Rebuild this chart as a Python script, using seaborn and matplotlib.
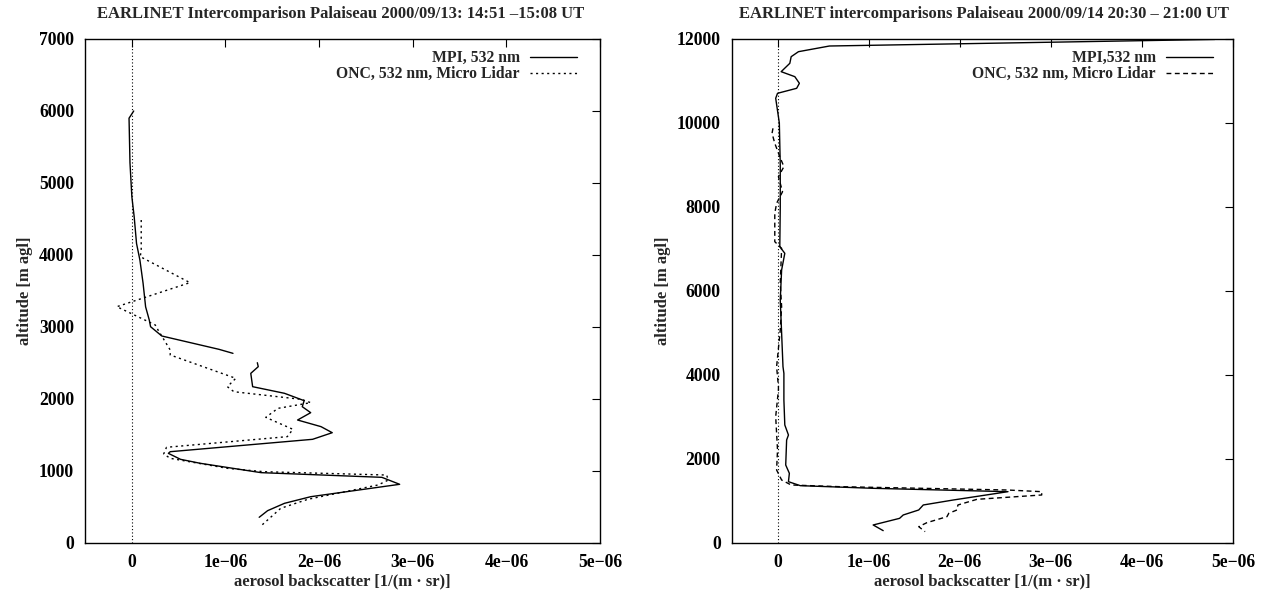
import numpy as np
import pandas as pd
import matplotlib
matplotlib.use("Agg")
import matplotlib.pyplot as plt
import seaborn as sns
from matplotlib.lines import Line2D

sns.set_theme(style="white")
plt.rcParams['font.family'] = ['Liberation Serif', 'DejaVu Serif']
plt.rcParams['font.weight'] = 'bold'

# ---- Left panel data (values in 1e-06 1/(m sr), altitude in m agl) ----
left_mpi_alt = [6000, 5900, 5280, 4810, 4530, 4160, 3930, 3607, 3280, 3097, 3004, 2875, 2690, 2634,
                np.nan,
                2504, 2449, 2356, 2171, 2079, 1977, 1893, 1810, 1708, 1616, 1532, 1440, 1268, 1245,
                1162, 1107, 977, 912, 815, 643, 551, 449, 357]
left_mpi_val = [0.02, -0.03, -0.02, 0.0, 0.025, 0.05, 0.086, 0.12, 0.147, 0.186, 0.2, 0.32, 0.93, 1.08,
                np.nan,
                1.34, 1.35, 1.27, 1.29, 1.63, 1.84, 1.82, 1.91, 1.77, 2.02, 2.14, 1.93, 0.41, 0.39,
                0.52, 0.73, 1.38, 2.67, 2.86, 1.91, 1.63, 1.45, 1.36]

left_onc_alt = [4486, 4069, 3977, 3616, 3282, 3028, 2958, 2680, 2611, 2579, 2287, 2171, 2101, 1995,
                1949, 1870, 1745, 1579, 1477, 1329, 1236, 1176, 1037, 990, 944, 875, 806, 607, 482, 250]
left_onc_val = [0.10, 0.10, 0.09, 0.62, -0.16, 0.25, 0.28, 0.41, 0.41, 0.48, 1.11, 1.02, 1.09, 1.81,
                1.91, 1.56, 1.43, 1.72, 1.66, 0.37, 0.34, 0.41, 1.02, 1.41, 2.72, 2.74, 2.63, 1.88, 1.59, 1.39]

# ---- Right panel data ----
right_mpi_alt = [11990, 11833, 11698, 11579, 11421, 11222, 11103, 10945, 10826, 10707, 10588,
                 10000, 9000, 8000, 7055, 6897, 6500, 5786, 5000, 4198, 4040, 3405, 2810, 2571, 2452,
                 1857, 1659, 1460, 1365, 1302, 1222, 1024, 905, 786, 667, 587, 429, 294]
right_mpi_val = [4.8, 0.57, 0.23, 0.15, 0.135, 0.04, 0.19, 0.24, 0.21, 0.0, -0.02,
                 0.02, 0.03, 0.03, 0.025, 0.08, 0.045, 0.03, 0.045, 0.06, 0.07, 0.07, 0.08, 0.12, 0.1,
                 0.09, 0.13, 0.12, 0.25, 1.05, 2.53, 1.93, 1.6, 1.55, 1.38, 1.34, 1.05, 1.16]

right_onc_alt = [9873, 9754, 9516, 9198, 8960, 8722, 8364, 8088, 7849, 7174, 7016, 6183, 5627, 5071,
                 4198, 3722, 3643, 3008, 2214, 1738, 1500, 1381, 1341, 1262, 1222, 1143, 1040, 905,
                 786, 707, 627, 484, 389, 270]
right_onc_val = [-0.05, -0.06, -0.03, 0.025, 0.07, 0.01, 0.055, -0.01, -0.03, -0.03, 0.045, 0.03, 0.045, 0.03,
                 -0.01, 0.01, 0.01, -0.02, 0.0, -0.01, 0.045, 0.15, 0.68, 2.52, 2.9, 2.9, 2.19, 1.98,
                 1.97, 1.88, 1.86, 1.64, 1.55, 1.62]

x_ticks = [0, 1e-6, 2e-6, 3e-6, 4e-6, 5e-6]
x_ticklabels = ['0', '1e\u221206', '2e\u221206', '3e\u221206', '4e\u221206', '5e\u221206']

titles = ['EARLINET Intercomparison Palaiseau 2000/09/13: 14:51 \u201315:08 UT',
          'EARLINET intercomparisons Palaiseau 2000/09/14 20:30 \u2013 21:00 UT']
mpi_labels = ['MPI, 532 nm', 'MPI,532 nm']
onc_label = 'ONC, 532 nm, Micro Lidar'

fig = plt.figure(figsize=(12.71, 5.99), dpi=100)
axL = fig.add_axes([0.0669, 0.0935, 0.4052, 0.8414])
axR = fig.add_axes([0.5759, 0.0935, 0.3942, 0.8414])


def segments(alt, val):
    df = pd.DataFrame({'alt': alt, 'val': np.array(val, dtype=float) * 1e-6})
    df['seg'] = df['alt'].isna().cumsum()
    return df.dropna()


def draw(ax, mpi_alt, mpi_val, onc_alt, onc_val, onc_style, ylim, yticks, mpi_label,
         title_x, title, leg_x):
    ax.axvline(0, color='black', lw=0.8, ls=(0, (1, 2)))
    dm = segments(mpi_alt, mpi_val)
    sns.lineplot(data=dm, x='val', y='alt', units='seg', estimator=None, sort=False,
                 color='black', lw=1.0, ax=ax)
    do = segments(onc_alt, onc_val)
    sns.lineplot(data=do, x='val', y='alt', units='seg', estimator=None, sort=False,
                 color='black', lw=1.0, ls=onc_style, ax=ax)
    ax.set_xlim(-0.5e-6, 5e-6)
    ax.set_ylim(*ylim)
    ax.set_xticks(x_ticks)
    ax.set_xticklabels(x_ticklabels)
    ax.set_yticks(yticks)
    ax.set_yticklabels([str(t) for t in yticks])
    ax.tick_params(direction='in', top=True, right=True, length=6, width=0.8,
                   labelsize=12.7, pad=8, colors='black')
    for lab in ax.get_xticklabels() + ax.get_yticklabels():
        lab.set_fontweight('bold')
    for s in ax.spines.values():
        s.set_color('black')
        s.set_linewidth(1.0)
    ax.set_xlabel('aerosol backscatter [1/(m \u00b7 sr)]', fontsize=12, fontweight='bold', labelpad=2)
    ax.set_ylabel('altitude [m agl]', fontsize=12, fontweight='bold', labelpad=4)
    handles = [Line2D([], [], color='black', lw=1.0),
               Line2D([], [], color='black', lw=1.0, ls=onc_style)]
    ax.legend(handles, [mpi_label, onc_label], loc='upper right', frameon=False,
              bbox_to_anchor=(leg_x, 1 - 5 / 504),
              markerfirst=False, alignment='right', prop={'weight': 'bold', 'size': 11.3},
              handlelength=3.0, handletextpad=0.64, labelspacing=0.0, borderpad=0.4,
              borderaxespad=0.0)
    ax.grid(False)
    fig.text(title_x, 1 - 14 / 599, title, ha='center', va='center', fontsize=12, fontweight='bold')


draw(axL, left_mpi_alt, left_mpi_val, left_onc_alt, left_onc_val, (0, (1.5, 2.5)),
     (0, 7000), list(range(0, 7001, 1000)), mpi_labels[0], 341 / 1271, titles[0], 0.9676)
draw(axR, right_mpi_alt, right_mpi_val, right_onc_alt, right_onc_val, (0, (3.5, 2.5)),
     (0, 12000), list(range(0, 12001, 2000)), mpi_labels[1], 984 / 1271, titles[1], 0.9727)

fig.savefig('out.png', dpi=100, facecolor='white')
